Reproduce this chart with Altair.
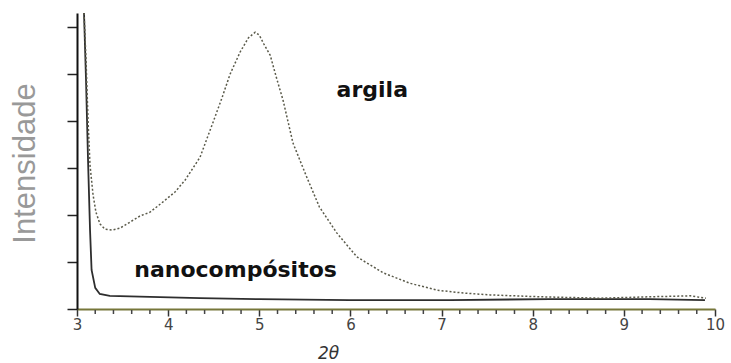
import altair as alt
import pandas as pd

# argila (clay) curve
argila_x = [3.077, 3.099, 3.121, 3.143, 3.176, 3.208, 3.252, 3.307, 3.384, 3.472,
            3.582, 3.691, 3.801, 3.944, 4.075, 4.185, 4.35, 4.49, 4.59, 4.68,
            4.79, 4.88, 4.955, 5.0, 5.05, 5.12, 5.19, 5.26, 5.37, 5.52,
            5.66, 5.85, 6.07, 6.36, 6.65, 6.95, 7.24, 7.53, 8.08, 8.74,
            9.29, 9.73, 9.90]
argila_y = [6.30, 5.30, 4.02, 3.06, 2.43, 2.06, 1.81, 1.70, 1.68, 1.72,
            1.85, 1.98, 2.06, 2.28, 2.49, 2.74, 3.23, 3.96, 4.49, 5.00,
            5.47, 5.77, 5.89, 5.83, 5.64, 5.40, 4.91, 4.45, 3.53, 2.81,
            2.17, 1.62, 1.11, 0.77, 0.55, 0.40, 0.34, 0.30, 0.26, 0.23,
            0.26, 0.28, 0.23]

# nanocompositos curve
nano_x = [3.077, 3.099, 3.121, 3.143, 3.16, 3.20, 3.25, 3.36, 3.80, 4.35,
          5.0, 5.99, 7.09, 8.18, 9.28, 9.89]
nano_y = [6.30, 4.87, 3.17, 1.68, 0.83, 0.45, 0.32, 0.28, 0.26, 0.23,
          0.21, 0.19, 0.19, 0.21, 0.21, 0.19]

labels_text = ["argila", "nanocompósitos"]
labels_x = [6.24, 4.74]
labels_y = [4.66, 0.83]

x_major_ticks = [3, 4, 5, 6, 7, 8, 9, 10]
x_minor_ticks = [round(m + f, 1) for m in range(3, 10) for f in (0.2, 0.4, 0.6, 0.8)]
y_tick_values = [0, 1, 2, 3, 4, 5, 6]

H = 296

df_arg = pd.DataFrame({"x": argila_x, "y": argila_y})
df_nano = pd.DataFrame({"x": nano_x, "y": nano_y})
df_lab = pd.DataFrame({"t": labels_text, "x": labels_x, "y": labels_y})
df_minor = pd.DataFrame({"x": x_minor_ticks})

xscale = alt.Scale(domain=[3, 10], nice=False, zero=False)
yscale = alt.Scale(domain=[0, 6.3], nice=False, zero=True)

xaxis = alt.Axis(
    values=x_major_ticks,
    format="d",
    labelOverlap=False,
    labelFlush=False,
    tickSize=7,
    tickColor="#333333",
    tickWidth=1.5,
    domainColor="#77773a",
    domainWidth=2,
    labelFont="DejaVu Sans",
    labelFontSize=15,
    labelColor="#444444",
    labelPadding=1,
    grid=False,
    title="2θ",
    titleFont="DejaVu Sans",
    titleFontStyle="italic",
    titleFontWeight="normal",
    titleFontSize=17,
    titleColor="#333333",
    titleX=251,
    titleY=44,
    titleBaseline="middle",
)
yaxis = alt.Axis(
    values=y_tick_values,
    labels=False,
    tickSize=10,
    tickColor="#222222",
    tickWidth=1.5,
    domainColor="#111111",
    domainWidth=2,
    grid=False,
    title="Intensidade",
    titleFont="Liberation Sans",
    titleFontWeight="normal",
    titleFontSize=31,
    titleColor="#999999",
    titleX=-52,
    titleY=150,
    titleBaseline="middle",
)

nano = alt.Chart(df_nano).mark_line(
    color="#2e2e2e", strokeWidth=1.8, clip=True
).encode(
    x=alt.X("x:Q", scale=xscale, axis=xaxis),
    y=alt.Y("y:Q", scale=yscale, axis=yaxis),
)
arg = alt.Chart(df_arg).mark_line(
    color="#5a5a4a", strokeWidth=1.5, strokeDash=[2, 2], clip=True
).encode(x="x:Q", y="y:Q")

minor = alt.Chart(df_minor).mark_rule(
    color="#444444", strokeWidth=1.5
).encode(x="x:Q", y=alt.value(H + 1), y2=alt.value(H + 5))

lab = alt.Chart(df_lab).mark_text(
    font="DejaVu Sans", fontWeight="bold", fontSize=22, color="#111111",
    align="center", baseline="middle"
).encode(x="x:Q", y="y:Q", text="t:N")

chart = alt.layer(nano, arg, minor, lab).properties(
    width=638, height=H,
    autosize=alt.AutoSizeParams(type="none"),
    padding={"left": 77, "top": 13, "right": 16, "bottom": 54},
    background="white",
).configure_view(stroke=None)

chart.save("out.html", embed_options={"renderer": "svg", "actions": False})
